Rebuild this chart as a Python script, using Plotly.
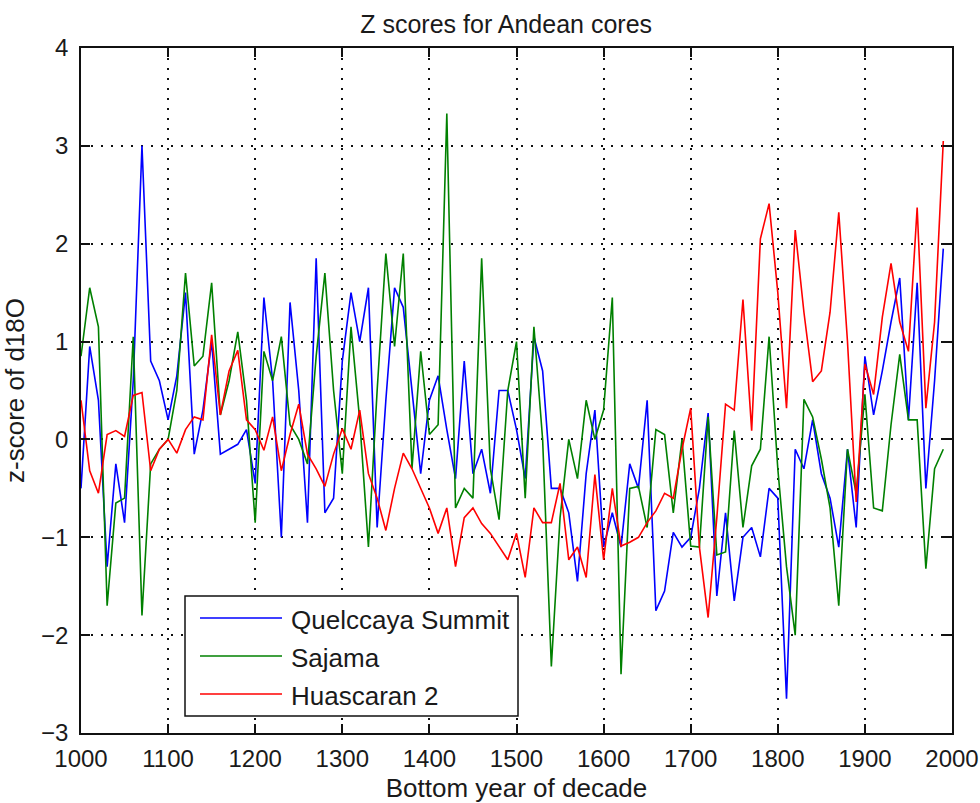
import plotly.graph_objects as go

years = list(range(1000, 2000, 10))

quelccaya = [
    -0.5, 0.95, 0.4, -1.3, -0.25, -0.85, 0.6, 3.0, 0.8, 0.6,
    0.2, 0.65, 1.5, -0.15, 0.3, 1.0, -0.15, -0.1, -0.05, 0.1,
    -0.45, 1.45, 0.6, -1.0, 1.4, 0.5, -0.85, 1.85, -0.75, -0.6,
    0.8, 1.5, 1.0, 1.55, -0.9, 0.4, 1.55, 1.35, 0.5, -0.35,
    0.4, 0.65, 0.1, -0.4, 0.8, -0.35, -0.1, -0.55, 0.5, 0.5,
    0.1, -0.4, 1.05, 0.7, -0.5, -0.5, -0.75, -1.45, -0.35, 0.3,
    -1.1, -0.75, -1.1, -0.25, -0.5, 0.4, -1.75, -1.55, -0.95, -1.1,
    -1.0, -0.5, 0.27, -1.6, -0.75, -1.65, -1.0, -0.9, -1.2, -0.5,
    -0.6, -2.65, -0.1, -0.3, 0.2, -0.35, -0.6, -1.1, -0.1, -0.9,
    0.85, 0.25, 0.7, 1.2, 1.65, 0.2, 1.6, -0.5, 0.6, 1.95,
]

sajama = [
    0.85, 1.55, 1.15, -1.7, -0.65, -0.6, 1.05, -1.8, -0.25, -0.1,
    0.0, 0.5, 1.7, 0.75, 0.85, 1.6, 0.25, 0.6, 1.1, 0.4,
    -0.85, 0.9, 0.6, 1.05, 0.15, 0.0, -0.25, 0.85, 1.7, 0.5,
    -0.35, 1.15, 0.2, -1.1, 0.5, 1.9, 0.95, 1.9, -0.3, 0.9,
    0.05, 0.15, 3.33, -0.7, -0.5, -0.6, 1.85, -0.3, -0.82, 0.5,
    1.0, -0.6, 1.15, 0.0, -2.32, -0.8, 0.0, -0.4, 0.4, 0.0,
    0.3, 1.45, -2.4, -0.5, -0.48, -0.9, 0.1, 0.05, -0.75, 0.0,
    -1.09, -1.1, 0.23, -1.18, -1.15, 0.09, -0.9, -0.27, -0.1, 1.05,
    -0.3, -1.3, -2.0, 0.41, 0.23, -0.2, -0.7, -1.7, -0.1, -0.55,
    0.46, -0.7, -0.73, 0.15, 0.87, 0.2, 0.2, -1.32, -0.3, -0.1,
]

huascaran = [
    0.4, -0.32, -0.55, 0.05, 0.09, 0.03, 0.45, 0.48, -0.32, -0.1,
    0.0, -0.14, 0.1, 0.23, 0.2, 1.07, 0.25, 0.7, 0.91, 0.2,
    0.1, -0.11, 0.23, -0.32, 0.05, 0.36, -0.15, -0.3, -0.48, -0.15,
    0.11, -0.1, 0.3, -0.35, -0.6, -0.93, -0.5, -0.14, -0.3, -0.5,
    -0.7, -0.96, -0.7, -1.3, -0.8, -0.7, -0.86, -0.96, -1.1, -1.23,
    -0.96, -1.41, -0.7, -0.85, -0.85, -0.45, -1.23, -1.1, -1.41, -0.36,
    -1.23, -0.5, -1.09, -1.05, -1.0, -0.85, -0.73, -0.55, -0.6, -0.1,
    0.32, -1.1, -1.82, -0.8, 0.36, 0.3, 1.43, 0.09, 2.05, 2.41,
    1.5, 0.32, 2.14, 1.3, 0.59, 0.7, 1.3, 2.32, 1.0, -0.64,
    0.77, 0.46, 1.25, 1.8, 1.2, 0.9, 2.37, 0.32, 1.2, 3.05,
]

series_names = ["Quelccaya Summit", "Sajama", "Huascaran 2"]
series_colors = ["#0000ff", "#008000", "#ff0000"]
x_ticks = list(range(1000, 2001, 100))
y_ticks = list(range(-3, 5))

FONT = "Liberation Sans, Arial, Helvetica, sans-serif"
TXT = "#1a1a1a"

fig = go.Figure()
for name, vals, col in zip(series_names, [quelccaya, sajama, huascaran], series_colors):
    fig.add_trace(go.Scatter(x=years, y=vals, mode="lines", name=name,
                             showlegend=False,
                             line=dict(color=col, width=1.6)))

axis_common = dict(
    showline=True, linecolor="#111", linewidth=1.5, mirror="ticks",
    ticks="inside", ticklen=9, tickcolor="#111", tickwidth=1.5,
    showgrid=True, gridcolor="#111", gridwidth=1.5, griddash="2px,8px",
    zeroline=False, automargin=False,
    tickfont=dict(family=FONT, size=24, color=TXT),
)

fig.update_layout(
    width=980, height=803,
    paper_bgcolor="white", plot_bgcolor="white",
    margin=dict(l=81, r=28, t=48, b=70),
    title=dict(text="Z scores for Andean cores", x=0.5165, xanchor="center",
               y=1 - 24 / 803, yanchor="middle",
               font=dict(family=FONT, size=25, color=TXT)),
    xaxis=dict(range=[1000, 2000], tickvals=x_ticks, ticklabelstandoff=3,
               title=dict(text="Bottom year of decade", standoff=8,
                          font=dict(family=FONT, size=26, color=TXT)),
               **axis_common),
    yaxis=dict(range=[-3, 4], tickvals=y_ticks, ticklabelstandoff=6,
               title=dict(text="z-score of d18O", standoff=12,
                          font=dict(family=FONT, size=26, color=TXT)),
               **axis_common),
    showlegend=False,
)

# legend (box, line samples and labels) in axes-fraction coordinates
def px_x(p):
    return (p - 81) / 871

def px_y(p):
    return (733 - p) / 685

fig.add_shape(type="rect", xref="paper", yref="paper",
              x0=px_x(185), x1=px_x(518), y0=px_y(716), y1=px_y(596),
              line=dict(color="#111", width=1.5), fillcolor="white", layer="above")
row_y = [618, 656, 694]
for name, col, ry in zip(series_names, series_colors, row_y):
    fig.add_shape(type="line", xref="paper", yref="paper",
                  x0=px_x(200), x1=px_x(282), y0=px_y(ry), y1=px_y(ry),
                  line=dict(color=col, width=1.6), layer="above")
    fig.add_annotation(x=px_x(289), y=px_y(ry + 2), xref="paper", yref="paper",
                       text=name, showarrow=False, xanchor="left", yanchor="middle",
                       font=dict(family=FONT, size=26, color=TXT))

fig.write_html("out.html")
